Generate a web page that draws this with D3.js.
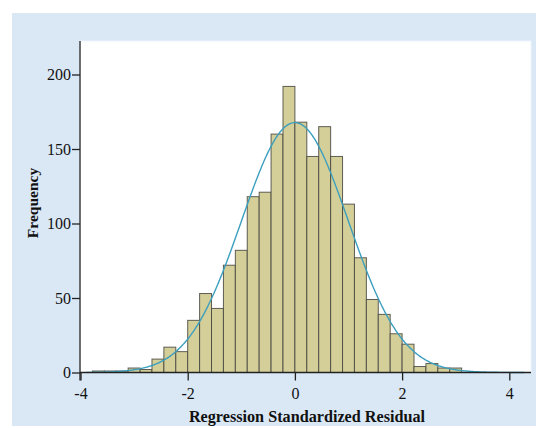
<!DOCTYPE html>
<html>
<head>
<meta charset="utf-8">
<script src="https://cdn.jsdelivr.net/npm/d3@7"></script>
<style>
  html, body { margin: 0; padding: 0; background: #fff; }
  svg { display: block; }
</style>
</head>
<body>
<script>
// Histogram of regression standardized residuals (bin width 2/9)
const binWidth = 2 / 9;
const binStarts = d3.range(-17, 14).map(k => k * binWidth);
const counts = [1, 1, 1, 3, 2, 9, 17, 14, 35, 53, 43, 72, 82, 118, 121, 160, 192,
                168, 145, 165, 145, 113, 77, 49, 39, 26, 19, 4, 6, 3, 3];
const xTicks = [-4, -2, 0, 2, 4];
const yTicks = [0, 50, 100, 150, 200];
const curveMean = 0.0;
const curveSd = 0.997;

const W = 536, H = 428;
const plot = { left: 80, right: 531, top: 41, bottom: 372.5 };

const svg = d3.select("body").append("svg").attr("width", W).attr("height", H);

svg.append("rect").attr("x", 12).attr("y", 13).attr("width", W - 12).attr("height", 413)
  .attr("fill", "#dae8f6");
svg.append("rect").attr("x", plot.left).attr("y", plot.top)
  .attr("width", plot.right - plot.left).attr("height", plot.bottom - plot.top)
  .attr("fill", "#ffffff").attr("stroke", "#eef4fb").attr("stroke-width", 1);

const x = d3.scaleLinear().domain([-4, -4 + (531 - 80.5) / 53.6]).range([80.5, 531]);
const y = d3.scaleLinear().domain([0, 200]).range([plot.bottom, 74.5]);

const data = binStarts.map((s, i) => ({ x0: s, x1: s + binWidth, n: counts[i] }));

svg.append("g").selectAll("rect").data(data).join("rect")
  .attr("x", d => x(d.x0))
  .attr("y", d => y(d.n))
  .attr("width", d => x(d.x1) - x(d.x0))
  .attr("height", d => y(0) - y(d.n))
  .attr("fill", "#d4cf99")
  .attr("stroke", "#44443e")
  .attr("stroke-width", 1)
  .attr("stroke-opacity", 0.85);

// Normal curve scaled to the histogram area
const total = d3.sum(counts);
const pdf = v => total * binWidth / (curveSd * Math.sqrt(2 * Math.PI)) *
  Math.exp(-0.5 * Math.pow((v - curveMean) / curveSd, 2));
const xs = d3.range(-3.9, 4.3, 0.02);
svg.append("path").datum(xs)
  .attr("d", d3.line().x(v => x(v)).y(v => y(pdf(v))))
  .attr("fill", "none").attr("stroke", "#3c9fbe").attr("stroke-width", 1.4);

const fontSerif = "'Liberation Serif', 'Times New Roman', serif";

const xAxis = svg.append("g").attr("transform", `translate(0,${plot.bottom})`)
  .call(d3.axisBottom(x).tickValues(xTicks).tickFormat(d => String(d)).tickSize(8).tickSizeOuter(0));
const yAxis = svg.append("g").attr("transform", `translate(${plot.left},0)`)
  .call(d3.axisLeft(y).tickValues(yTicks).tickFormat(d => String(d)).tickSize(8).tickSizeOuter(0));

[xAxis, yAxis].forEach(g => {
  g.attr("font-family", null).attr("font-size", null);
  g.select(".domain").attr("stroke", "#222").attr("stroke-width", 1.3);
  g.selectAll(".tick line").attr("stroke", "#222").attr("stroke-width", 1.3);
  g.selectAll(".tick text").attr("fill", "#111")
    .style("font-family", fontSerif).style("font-size", "16px");
});
xAxis.select(".domain").attr("d", `M${plot.left},0H${plot.right}`);
yAxis.select(".domain").attr("d", `M0,${plot.top}V${plot.bottom + 8}`);
xAxis.selectAll(".tick text").attr("y", 15);
yAxis.selectAll(".tick text").attr("x", -9);

svg.append("text").attr("x", 307).attr("y", 421.5)
  .attr("text-anchor", "middle")
  .style("font-family", fontSerif).style("font-size", "16.2px").style("font-weight", "bold")
  .attr("fill", "#111").text("Regression Standardized Residual");

svg.append("text").attr("transform", "translate(37.5,203) rotate(-90)")
  .attr("text-anchor", "middle")
  .style("font-family", fontSerif).style("font-size", "15.5px").style("font-weight", "bold")
  .attr("fill", "#111").text("Frequency");
</script>
</body>
</html>
